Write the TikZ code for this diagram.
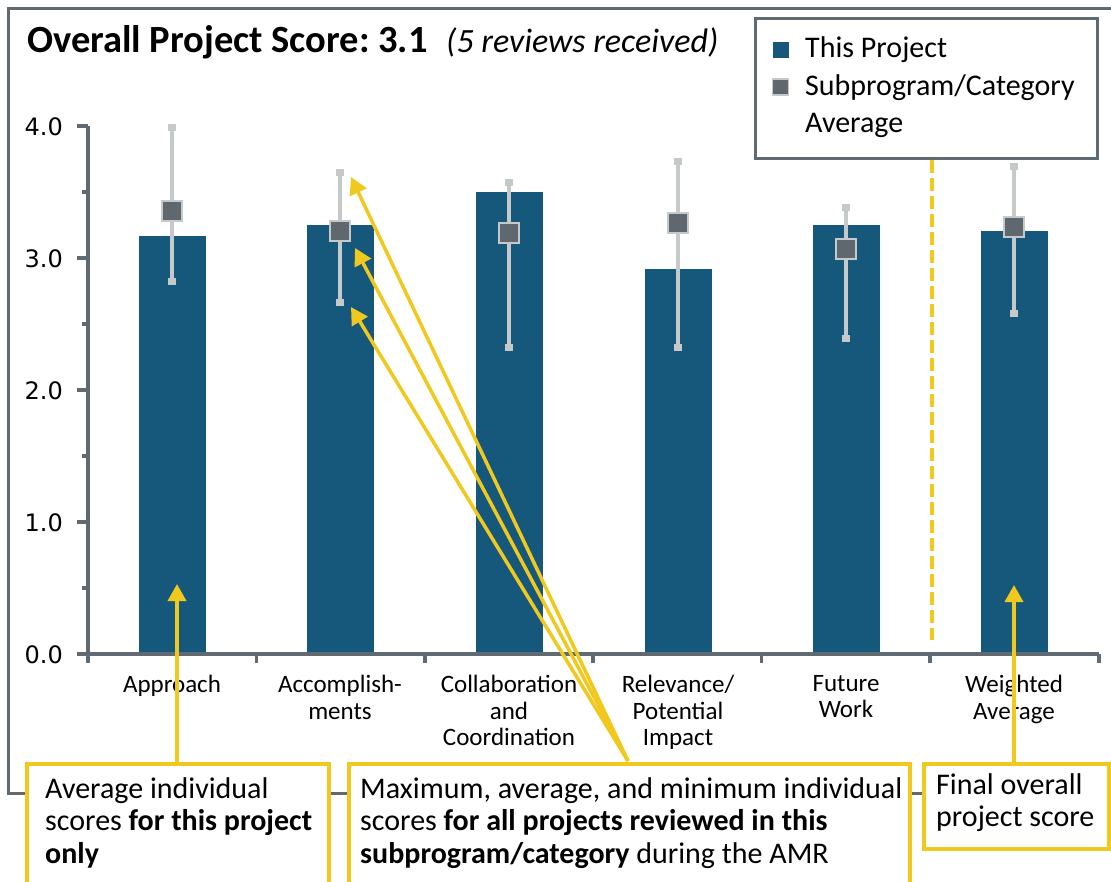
\documentclass[tikz,border=0pt]{standalone}
\usepackage{fontspec}
\setmainfont{Carlito}
\newfontfamily\dejavu{DejaVu Sans}
\usetikzlibrary{arrows.meta}
\frenchspacing
\definecolor{barblue}{RGB}{22,88,123}
\definecolor{axgray}{RGB}{95,106,114}
\definecolor{sqgray}{RGB}{96,104,111}
\definecolor{errgray}{RGB}{197,201,202}
\definecolor{ayellow}{RGB}{240,200,30}
\tikzset{
  frameline/.style={draw=axgray, line width=3pt},
  axisline/.style={draw=axgray, line width=3.5pt},
  barbox/.style={fill=barblue, draw=none, minimum width=67pt, inner sep=0pt, anchor=south},
  errline/.style={draw=errgray, line width=4pt},
  errcap/.style={fill=errgray, draw=none, minimum width=8pt, minimum height=7pt, inner sep=0pt},
  avgsq/.style={fill=sqgray, draw=errgray, line width=2pt, minimum size=20pt, inner sep=0pt},
  ybox/.style={draw=ayellow, line width=3.5pt, fill=white, inner sep=0pt, anchor=north west},
  yarrow/.style={draw=ayellow, line width=3.5pt, -{Triangle[length=17pt,width=18pt]}, ayellow},
  anno/.style={font=\fontsize{30}{32.5}\selectfont, align=left, anchor=north west, inner sep=0pt},
  catlabel/.style={font=\fontsize{25}{26.5}\selectfont, align=center, anchor=north, inner sep=0pt},
  ticklabel/.style={font=\dejavu\fontsize{24}{26}\selectfont, anchor=east, inner sep=0pt},
  legtext/.style={font=\fontsize{30}{37.5}\selectfont, anchor=west, inner sep=0pt},
}
\begin{document}
\begin{tikzpicture}[x=1pt,y=-1pt]
\useasboundingbox (0,0) rectangle (1111,881);
\clip (0,0) rectangle (1111,881);
\fill[white] (0,0) rectangle (1111,881);
% outer frame
\draw[frameline] (1130,8) -- (8,8) -- (8,793) -- (1130,793);
% title
\node[anchor=west, inner sep=0pt, font=\bfseries\fontsize{38.5}{42}\selectfont] (title) at (27,42) {Overall Project Score: 3.1};
\node[anchor=west, inner sep=0pt, font=\itshape\fontsize{34}{40}\selectfont] (subtitle) at (446,42) {(5 reviews received)};
% legend
\node[draw=axgray, line width=3pt, fill=white, minimum width=342pt, minimum height=140pt, anchor=north west, inner sep=0pt] (legend) at (754,17) {};
\node[fill=barblue, minimum size=16pt, inner sep=0pt] (legA) at (780.5,50) {};
\node[fill=sqgray, draw=errgray, line width=1.5pt, minimum size=16pt, inner sep=0pt] (legB) at (780.5,87) {};
\node[legtext] (legAt) at (805,50) {This Project};
\node[legtext] (legBt) at (805,88) {Subprogram/Category};
\node[legtext] (legCt) at (805,125) {Average};
% bars
\foreach \n/\x/\t in {1/172/236, 2/340/225, 3/509/192, 4/678/269, 5/846/225, 6/1014/231}{
  \pgfmathsetmacro{\h}{654-\t}
  \node[barbox, minimum height=\h pt] (bar\n) at (\x,654) {};
}
% dashed separator
\draw[ayellow, line width=4.5pt, dash pattern=on 13pt off 5pt] (932,160) -- (932,640);
% error bars
\foreach \n/\x/\a/\b/\m in {1/172/127/281/211, 2/340/172/302/231, 3/509/182/347/233, 4/678/161/347/223, 5/846/207/338/249, 6/1014/166/313/227}{
  \draw[errline] (\x,\a) -- (\x,\b);
  \node[errcap] (capT\n) at (\x,\a) {};
  \node[errcap] (capB\n) at (\x,\b) {};
  \node[avgsq] (avg\n) at (\x,\m) {};
}
% axes
\draw[axisline] (88,126) -- (88,654);
\foreach \y in {126,258,390,522,654}{\draw[axisline] (77,\y) -- (88,\y);}
\foreach \y in {192,324,456,588}{\draw[axisline] (82,\y) -- (88,\y);}
\draw[axisline] (77,654) -- (1099,654);
\foreach \x in {88,256.4,424.8,593.2,761.6,930,1099}{\draw[axisline] (\x,654) -- (\x,663);}
% tick labels
\node[ticklabel] (t4) at (63,127) {4.0};
\node[ticklabel] (t3) at (63,259) {3.0};
\node[ticklabel] (t2) at (63,391) {2.0};
\node[ticklabel] (t1) at (63,523) {1.0};
\node[ticklabel] (t0) at (63,655) {0.0};
% category labels
\node[catlabel] (c1) at (172,675) {Approach};
\node[catlabel] (c2) at (340,675) {Accomplish-\\ments};
\node[catlabel] (c3) at (509,675) {Collaboration\\and\\Coordination};
\node[catlabel] (c4) at (678,675) {Relevance/\\Potential\\Impact};
\node[catlabel] (c5) at (846,675) {Future\\Work};
\node[catlabel] (c6) at (1014,675) {Weighted\\Average};
% annotation boxes
\node[ybox, minimum width=302pt, minimum height=160pt] (boxA) at (25,762) {};
\node[ybox, minimum width=561pt, minimum height=160pt] (boxB) at (347,762) {};
\node[ybox, minimum width=185pt, minimum height=85pt] (boxC) at (922,762) {};
\node[anno] (txA) at (45,777) {Average individual\\scores \textbf{for this project}\\\textbf{only}};
\node[anno] (txB) at (360,777) {Maximum, average, and minimum individual\\scores \textbf{for all projects reviewed in this}\\\textbf{subprogram/category} during the AMR};
\node[anno] (txC) at (936,773) {Final overall\\project score};
% arrows
\coordinate (tipA) at (177,584);
\coordinate (tipC) at (1014,585);
\coordinate (conv) at (628,761);
\coordinate (tipB1) at (351,177);
\coordinate (tipB2) at (355,248);
\coordinate (tipB3) at (351,307);
\draw[yarrow] (boxA.north -| tipA) -- (tipA);
\draw[yarrow] (boxC.north -| tipC) -- (tipC);
\draw[yarrow] (conv) -- (tipB1);
\draw[yarrow] (conv) -- (tipB2);
\draw[yarrow] (conv) -- (tipB3);
\end{tikzpicture}
\end{document}
